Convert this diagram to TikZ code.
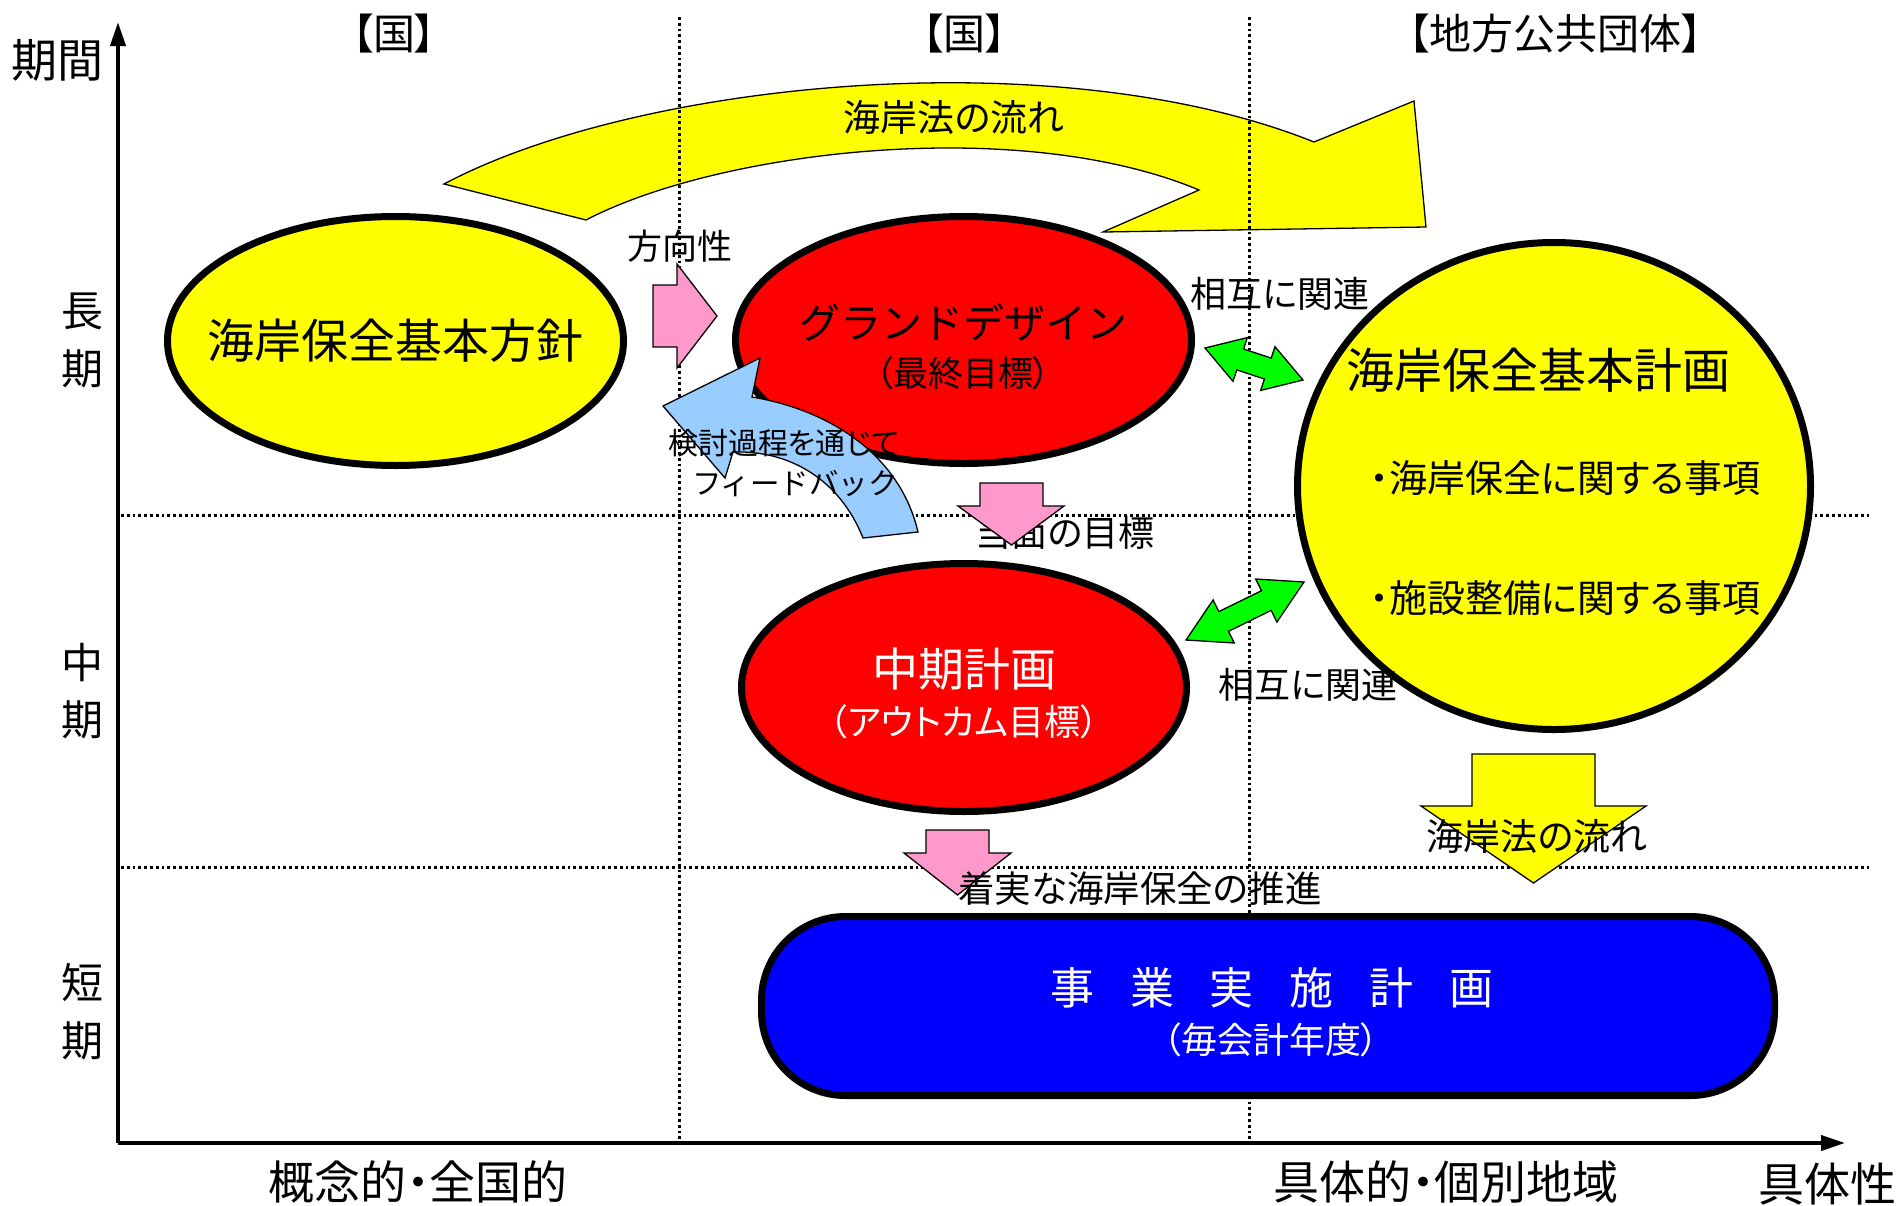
\documentclass[tikz,border=0pt]{standalone}
\usepackage{fontspec}
\setmainfont{Noto Sans CJK JP}[RawFeature=+palt]
\newfontfamily\fullw{Noto Sans CJK JP}
\usetikzlibrary{shapes.geometric,arrows.meta}
\definecolor{pinkA}{HTML}{FF99CC}
\definecolor{skyA}{HTML}{99CCFF}
\definecolor{greenA}{HTML}{00FF00}
\definecolor{yellowA}{HTML}{FFFF00}
\definecolor{redA}{HTML}{FF0000}
\definecolor{blueA}{HTML}{0000FF}
\begin{document}
\begin{tikzpicture}[x=1pt,y=-1pt,
  txt/.style={inner sep=0pt,font=\fontsize{#1pt}{#1pt}\selectfont},
  ell/.style={ellipse,draw=black,line width=7pt,inner sep=0pt},
  blockarrow/.style={draw=black,line width=1.3pt,line join=miter},
  grid/.style={line width=3pt,dash pattern=on 2.8pt off 3pt},
  axis/.style={line width=4pt,-{Triangle[length=24pt,width=15pt]}}]
\useasboundingbox (0,0) rectangle (1901,1205);
\fill[white] (0,0) rectangle (1901,1205);

% big curved arrow (law flow)
\coordinate (ytailo) at (444,184);
\coordinate (ytaili) at (586,220);
\coordinate (yheado) at (1314,142);
\coordinate (yheadi) at (1199,190);
\coordinate (ybarbu) at (1414,101);
\coordinate (ytip) at (1426,227);
\coordinate (ybarbl) at (1103,232);
\filldraw[blockarrow,fill=yellowA] (ytailo) .. controls (640,80) and (1060,40) .. (yheado)
  -- (ybarbu) -- (ytip) -- (ybarbl) -- (yheadi)
  .. controls (1020,115) and (720,150) .. (ytaili) -- cycle;

% grid lines
\coordinate (v1t) at (679,17); \coordinate (v1b) at (679,1143);
\coordinate (v2t) at (1249,17); \coordinate (v2b) at (1249,1143);
\coordinate (h1l) at (121,515); \coordinate (h1r) at (1869,515);
\coordinate (h2l) at (121,867); \coordinate (h2r) at (1869,867);
\draw[grid] (v1t) -- (v1b);
\draw[grid] (v2t) -- (v2b);
\draw[grid] (h1l) -- (h1r);
\draw[grid] (h2l) -- (h2r);

% axes
\coordinate (origin) at (118,1143);
\coordinate (ytop) at (118,22);
\coordinate (xend) at (1845,1143);
\draw[axis] (origin) -- (ytop);
\draw[axis] (origin) -- (xend);

% ellipses and bar
\node[ell,fill=yellowA,minimum width=456pt,minimum height=249pt] (houshin) at (395.5,341) {};
\node[ell,fill=redA,minimum width=456pt,minimum height=247pt] (grand) at (963.5,340) {};
\node[ell,fill=redA,minimum width=445pt,minimum height=248pt] (chuuki) at (964,687.5) {};
\node[ell,fill=yellowA,minimum width=513pt,minimum height=487pt] (keikaku) at (1554,486) {};
\node[draw=black,line width=7pt,fill=blueA,rounded corners=84pt,minimum width=1013pt,minimum height=179pt,inner sep=0pt] (jigyou) at (1268,1006) {};

\node[txt=36] (toumen) at (1065,533) {当面の目標};

% feedback arrow
\coordinate (ftip) at (760,358);
\coordinate (fo1) at (752,397);
\coordinate (fo2) at (918,532);
\coordinate (fi2) at (863,538);
\coordinate (fi1) at (733,452);
\coordinate (fb1) at (725,478);
\coordinate (fb2) at (663,406);
\filldraw[blockarrow,fill=skyA] (ftip) -- (fo1) .. controls (830,410) and (900,455) .. (fo2)
  -- (fi2) .. controls (840,480) and (790,450) .. (fi1) -- (fb1) -- (fb2) -- cycle;

% pink arrows
\filldraw[blockarrow,fill=pinkA] (653,285) -- (677,285) -- (677,264) -- (717,316) -- (677,368) -- (677,347) -- (653,347) -- cycle;
\filldraw[blockarrow,fill=pinkA] (980,483) -- (1043,483) -- (1043,506) -- (1064,506) -- (1011.5,545) -- (958,506) -- (980,506) -- cycle;
\filldraw[blockarrow,fill=pinkA] (926,830) -- (989,830) -- (989,853) -- (1011,853) -- (957.5,895) -- (904,853) -- (926,853) -- cycle;

% yellow down arrow
\filldraw[blockarrow,fill=yellowA] (1472,754) -- (1595,754) -- (1595,806) -- (1646,806) -- (1533.5,883) -- (1421,806) -- (1472,806) -- cycle;

% green double arrows
\filldraw[blockarrow,fill=greenA] (1205,348) -- (1233.0,381.3) -- (1236.8,369.9) -- (1264.4,379.0) -- (1260.7,390.4) -- (1303,380)
  -- (1275.0,346.7) -- (1271.2,358.1) -- (1243.6,349.0) -- (1247.3,337.6) -- cycle;
\filldraw[blockarrow,fill=greenA] (1186,640) -- (1234.3,643.0) -- (1228.5,631.3) -- (1271.2,610.4) -- (1276.9,622.1) -- (1304,582)
  -- (1255.7,579.0) -- (1261.5,590.7) -- (1218.8,611.6) -- (1213.1,599.9) -- cycle;

% texts
\node[txt=46] (kikan) at (58,60) {期間};
\node[txt=42] (chou1) at (82,311) {長};
\node[txt=42] (chou2) at (82,369) {期};
\node[txt=42] (chu1) at (82,663) {中};
\node[txt=42] (chu2) at (82,720) {期};
\node[txt=42] (tan1) at (82,983) {短};
\node[txt=42] (tan2) at (82,1041) {期};
\node[txt=42] (kuni1) at (394,34) {【国】};
\node[txt=42] (kuni2) at (964,34) {【国】};
\node[txt=42] (chihou) at (1555,34) {【地方公共団体】};
\node[txt=37] (flow1) at (954,117) {海岸法の流れ};
\node[txt=35] (houkou) at (680,246) {方向性};
\node[txt=47] at (houshin) (houshint) {海岸保全基本方針};
\node[txt=41] (grandt) at (963,322) {\fullw グランドデザイン};
\node[txt=35] (grandsub) at (963,373) {（最終目標）};
\node[txt=36] (sougo1) at (1280,294) {相互に関連};
\node[txt=48] (keikakut) at (1538,370) {海岸保全基本計画};
\node[txt=38] (item1) at (1565,478) {・海岸保全に関する事項};
\node[txt=38] (item2) at (1565,598) {・施設整備に関する事項};
\node[txt=30] (fb1t) at (784,443) {検討過程を通じて};
\node[txt=29.5] (fb2t) at (795,484) {\fullw フィードバック};
\node[txt=46,text=white] (chuukit) at (964,669) {中期計画};
\node[txt=36,text=white] (chuukisub) at (964,722) {（アウトカム目標）};
\node[txt=36] (sougo2) at (1308,685) {相互に関連};
\node[txt=37] (flow2) at (1537,836) {海岸法の流れ};
\node[txt=36.5] (suishin) at (1140,889) {着実な海岸保全の推進};
\node[txt=44,text=white] (jigyout) at (1272,988) {事\hspace{36pt}業\hspace{36pt}実\hspace{36pt}施\hspace{36pt}計\hspace{36pt}画};
\node[txt=36,text=white] (jigyousub) at (1271,1040) {（毎会計年度）};
\node[txt=46] (gainen) at (418,1182) {概念的・全国的};
\node[txt=46] (gutai) at (1446,1182) {具体的・個別地域};
\node[txt=46] (gutaisei) at (1827,1184) {具体性};
\end{tikzpicture}
\end{document}
